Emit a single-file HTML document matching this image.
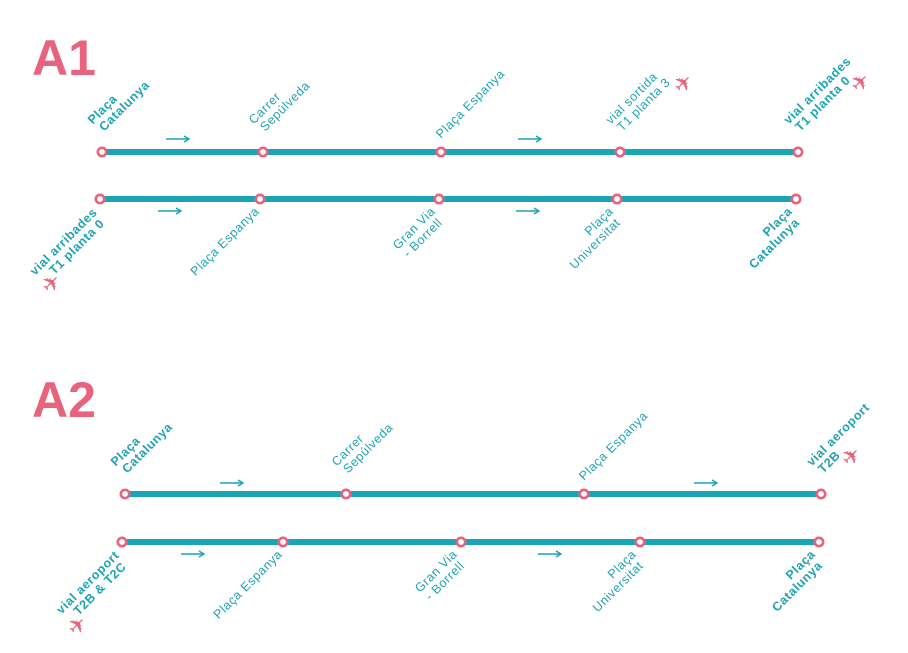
<!DOCTYPE html>
<html><head><meta charset="utf-8"><style>
html,body{margin:0;padding:0;background:#fff;}
svg{display:block}
text{font-family:"Liberation Sans","DejaVu Sans",sans-serif;fill:#1fa3b3;font-size:12.5px;letter-spacing:0.6px}
.b{font-weight:bold}
.h{fill:#e8647e;font-weight:bold;font-size:50px;letter-spacing:0}
.p{fill:#e8647e;font-size:22px;letter-spacing:0;font-family:"DejaVu Sans",sans-serif}
</style></head><body>
<svg width="908" height="653" viewBox="0 0 908 653" xmlns="http://www.w3.org/2000/svg">
<defs>
<g id="arr"><line x1="0" y1="0" x2="22" y2="0" stroke="#1fa3b3" stroke-width="1.6"/><path d="M18,-3 L23,0 L18,3" fill="none" stroke="#1fa3b3" stroke-width="1.4"/></g>
<circle id="n" r="4.2" fill="#fff" stroke="#e8647e" stroke-width="2.6"/>
</defs>

<text class="h" x="32" y="75">A1</text>
<text class="h" x="32" y="417">A2</text>

<g stroke="#1aa5b6" stroke-width="6">
<line x1="102" y1="152" x2="798" y2="152"/>
<line x1="100" y1="199" x2="796" y2="199"/>
<line x1="125" y1="494" x2="821" y2="494"/>
<line x1="122" y1="542" x2="819" y2="542"/>
</g>
<use href="#n" x="102" y="152"/><use href="#n" x="263" y="152"/><use href="#n" x="441" y="152"/><use href="#n" x="620" y="152"/><use href="#n" x="798" y="152"/>
<use href="#n" x="100" y="199"/><use href="#n" x="260" y="199"/><use href="#n" x="439" y="199"/><use href="#n" x="617" y="199"/><use href="#n" x="796" y="199"/>
<use href="#n" x="125" y="494"/><use href="#n" x="346" y="494"/><use href="#n" x="584" y="494"/><use href="#n" x="821" y="494"/>
<use href="#n" x="122" y="542"/><use href="#n" x="283" y="542"/><use href="#n" x="461" y="542"/><use href="#n" x="640" y="542"/><use href="#n" x="819" y="542"/>

<use href="#arr" x="166" y="139"/><use href="#arr" x="518" y="139"/>
<use href="#arr" x="158" y="211"/><use href="#arr" x="516" y="211"/>
<use href="#arr" x="220" y="483"/><use href="#arr" x="694" y="483"/>
<use href="#arr" x="181" y="554"/><use href="#arr" x="538" y="554"/>

<g transform="translate(102,134) rotate(-45)"><text class="b" y="-13">Plaça</text><text class="b" y="0" x="3">Catalunya</text></g>
<g transform="translate(263,134) rotate(-45)"><text y="-13">Carrer</text><text y="0" x="3">Sepúlveda</text></g>
<g transform="translate(441,139) rotate(-45)"><text>Plaça Espanya</text></g>
<g transform="translate(620,134) rotate(-45)"><text y="-13">vial sortida</text><text y="0" x="3">T1 planta 3</text></g>
<g transform="translate(798,134) rotate(-45)"><text class="b" y="-13">vial arribades</text><text class="b" y="0" x="3">T1 planta 0</text></g>
<text class="p" transform="translate(683,83) rotate(-45)" text-anchor="middle" y="8">✈</text>
<text class="p" transform="translate(860,82) rotate(-45)" text-anchor="middle" y="8">✈</text>

<g transform="translate(98,213) rotate(-45)"><text class="b" text-anchor="end" y="0">vial arribades</text><text class="b" text-anchor="end" y="13" x="-3">T1 planta 0</text></g>
<text class="p" transform="translate(51,283) rotate(-45)" text-anchor="middle" y="8">✈</text>
<g transform="translate(260,212) rotate(-45)"><text text-anchor="end">Plaça Espanya</text></g>
<g transform="translate(436,212) rotate(-45)"><text text-anchor="end" y="0">Gran Via</text><text text-anchor="end" y="13" x="-3">- Borrell</text></g>
<g transform="translate(614,212) rotate(-45)"><text text-anchor="end" y="0">Plaça</text><text text-anchor="end" y="13" x="-3">Universitat</text></g>
<g transform="translate(793,212) rotate(-45)"><text class="b" text-anchor="end" y="0">Plaça</text><text class="b" text-anchor="end" y="13" x="-3">Catalunya</text></g>

<g transform="translate(125,476) rotate(-45)"><text class="b" y="-13">Plaça</text><text class="b" y="0" x="3">Catalunya</text></g>
<g transform="translate(346,476) rotate(-45)"><text y="-13">Carrer</text><text y="0" x="3">Sepúlveda</text></g>
<g transform="translate(584,481) rotate(-45)"><text>Plaça Espanya</text></g>
<g transform="translate(821,476) rotate(-45)"><text class="b" y="-13">vial aeroport</text><text class="b" y="0" x="3">T2B</text></g>
<text class="p" transform="translate(851,456) rotate(-45)" text-anchor="middle" y="8">✈</text>

<g transform="translate(120,556) rotate(-45)"><text class="b" text-anchor="end" y="0">vial aeroport</text><text class="b" text-anchor="end" y="13" x="-3">T2B &amp; T2C</text></g>
<text class="p" transform="translate(77,625) rotate(-45)" text-anchor="middle" y="8">✈</text>
<g transform="translate(283,555) rotate(-45)"><text text-anchor="end">Plaça Espanya</text></g>
<g transform="translate(458,555) rotate(-45)"><text text-anchor="end" y="0">Gran Via</text><text text-anchor="end" y="13" x="-3">- Borrell</text></g>
<g transform="translate(637,555) rotate(-45)"><text text-anchor="end" y="0">Plaça</text><text text-anchor="end" y="13" x="-3">Universitat</text></g>
<g transform="translate(816,555) rotate(-45)"><text class="b" text-anchor="end" y="0">Plaça</text><text class="b" text-anchor="end" y="13" x="-3">Catalunya</text></g>
</svg>
</body></html>
